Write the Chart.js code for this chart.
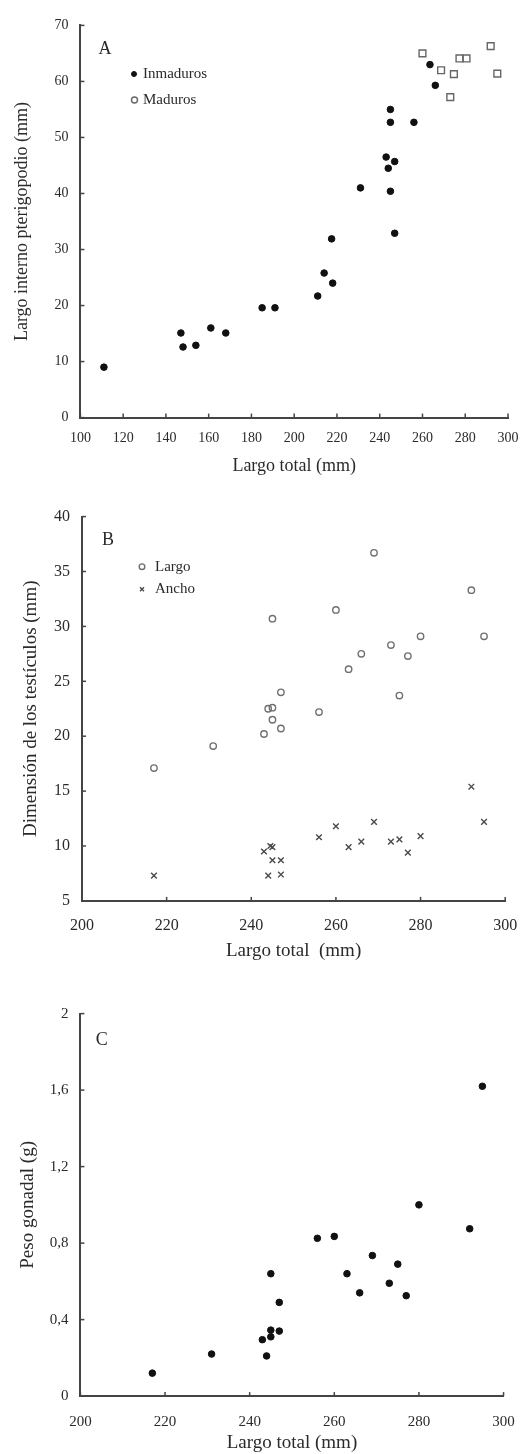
<!DOCTYPE html>
<html>
<head>
<meta charset="utf-8">
<script src="https://cdn.jsdelivr.net/npm/chart.js@4.4.1/dist/chart.umd.min.js"></script>
<style>
  html, body { margin: 0; padding: 0; background: #fff; }
  body { width: 532px; height: 1454px; position: relative; overflow: hidden; }
  canvas { position: absolute; left: 0; }
</style>
</head>
<body>
<canvas id="chartA" width="532" height="480" style="top:0px"></canvas>
<canvas id="chartB" width="532" height="500" style="top:480px"></canvas>
<canvas id="chartC" width="532" height="494" style="top:960px"></canvas>
<script>
// ===== Data =====
// A: largo interno del pterigopodio vs largo total
const aInmadurosX = [111, 147, 148, 154, 161, 168, 185, 191, 211, 214, 218, 217.5, 247, 231, 245, 243, 244, 247, 245, 245, 256, 263.5, 266];
const aInmadurosY = [9, 15.1, 12.6, 12.9, 16, 15.1, 19.6, 19.6, 21.7, 25.8, 24, 31.9, 32.9, 41, 40.4, 46.5, 44.5, 45.7, 55, 52.7, 52.7, 63, 59.3];
const aMadurosX = [260, 268.7, 274.7, 273, 277.3, 280.6, 291.9, 295];
const aMadurosY = [65, 62, 61.3, 57.2, 64.1, 64.1, 66.3, 61.4];

// B: dimension de los testiculos vs largo total
const bLargoX = [269, 292, 260, 245, 280, 295, 273, 266, 277, 263, 247, 275, 244, 245, 256, 245, 247, 243, 231, 217];
const bLargoY = [36.7, 33.3, 31.5, 30.7, 29.1, 29.1, 28.3, 27.5, 27.3, 26.1, 24, 23.7, 22.5, 22.6, 22.2, 21.5, 20.7, 20.2, 19.1, 17.1];
const bAnchoX = [292, 295, 260, 269, 256, 280, 263, 266, 273, 275, 277, 243, 245, 244.5, 245, 247, 244, 247, 217];
const bAnchoY = [15.4, 12.2, 11.8, 12.2, 10.8, 10.9, 9.9, 10.4, 10.4, 10.6, 9.4, 9.5, 9.9, 10, 8.7, 8.7, 7.3, 7.4, 7.3];

// C: peso gonadal vs largo total
const cPesoX = [295, 280, 292, 256, 260, 269, 275, 263, 245, 273, 266, 277, 247, 245, 247, 245, 243, 244, 231, 217];
const cPesoY = [1.62, 1.0, 0.875, 0.825, 0.835, 0.735, 0.69, 0.64, 0.64, 0.59, 0.54, 0.525, 0.49, 0.345, 0.34, 0.31, 0.295, 0.21, 0.22, 0.12];

const SERIF = "'Liberation Serif', 'DejaVu Serif', serif";
const AXIS = '#444';
const INK = '#2a2a2a';

Chart.defaults.font.family = SERIF;
Chart.defaults.color = INK;

const pts = (xs, ys) => xs.map((x, i) => ({ x: x, y: ys[i] }));

// ticks drawn inward, like the original figure
const innerTicks = {
    id: 'innerTicks',
    afterDatasetsDraw(chart) {
        const ctx = chart.ctx;
        const { x, y } = chart.scales;
        ctx.save();
        ctx.strokeStyle = AXIS;
        ctx.lineWidth = 1.5;
        x.ticks.forEach(t => {
            const px = x.getPixelForValue(t.value);
            ctx.beginPath(); ctx.moveTo(px, x.top); ctx.lineTo(px, x.top - 4); ctx.stroke();
        });
        y.ticks.forEach(t => {
            const py = y.getPixelForValue(t.value);
            ctx.beginPath(); ctx.moveTo(y.right, py); ctx.lineTo(y.right + 4, py); ctx.stroke();
        });
        ctx.restore();
    }
};

// panel letter + small legend inside the plot
const notes = {
    id: 'notes',
    afterDraw(chart, args, opts) {
        const ctx = chart.ctx;
        ctx.save();
        ctx.fillStyle = INK;
        ctx.textBaseline = 'middle';
        ctx.textAlign = 'center';
        ctx.font = opts.letterSize + 'px ' + SERIF;
        ctx.fillText(opts.letter, opts.letterX, opts.letterY);
        ctx.font = '15px ' + SERIF;
        (opts.items || []).forEach(it => {
            const ds = chart.data.datasets[it.ds];
            ctx.fillStyle = ds.backgroundColor;
            ctx.strokeStyle = ds.borderColor;
            ctx.lineWidth = ds.borderWidth;
            Chart.helpers.drawPoint(ctx, {
                pointStyle: it.style || ds.pointStyle, radius: it.r, borderWidth: ds.borderWidth, rotation: 0
            }, it.x, it.y);
            ctx.fillStyle = INK;
            ctx.textAlign = 'left';
            ctx.fillText(ds.label, opts.textX, it.y);
        });
        ctx.restore();
    }
};

function makePanel(id, p) {
    return new Chart(document.getElementById(id), {
        type: 'scatter',
        data: { datasets: p.datasets },
        options: {
            responsive: false,
            animation: false,
            devicePixelRatio: 1,
            layout: { padding: { left: 0, right: p.padRight, top: p.padTop, bottom: 0 } },
            plugins: {
                legend: { display: false },
                tooltip: { enabled: false },
                notes: p.notes
            },
            scales: {
                x: {
                    type: 'linear', min: p.xMin, max: p.xMax,
                    afterFit: s => { s.height = p.xHeight; },
                    grid: { display: false, drawTicks: false },
                    border: { display: true, color: AXIS, width: 2 },
                    ticks: { stepSize: 20, autoSkip: false, maxRotation: 0, padding: p.xTickPad, font: { size: p.tickSize }, color: INK },
                    title: { display: true, text: p.xTitle, font: { size: p.titleSize }, color: INK, padding: { top: 0, bottom: p.xTitlePad } }
                },
                y: {
                    type: 'linear', min: p.yMin, max: p.yMax,
                    afterFit: s => { s.width = p.yWidth; },
                    grid: { display: false, drawTicks: false },
                    border: { display: true, color: AXIS, width: 2 },
                    ticks: {
                        stepSize: p.yStep, autoSkip: false, padding: 12, font: { size: p.tickSize }, color: INK,
                        callback: v => String(Number(v.toFixed(1))).replace('.', ',')
                    },
                    title: { display: true, text: p.yTitle, font: { size: p.titleSize }, color: INK, padding: { top: p.yTitlePad, bottom: 0 } }
                }
            }
        },
        plugins: [innerTicks, notes]
    });
}

const filled = { backgroundColor: '#111', borderColor: '#111', borderWidth: 1, pointRadius: 3.3 };

makePanel('chartA', {
    datasets: [
        Object.assign({ label: 'Inmaduros', data: pts(aInmadurosX, aInmadurosY), pointStyle: 'circle' }, filled),
        { label: 'Maduros', data: pts(aMadurosX, aMadurosY), pointStyle: 'rect', pointRadius: 4.8,
          backgroundColor: 'rgba(255,255,255,0)', borderColor: '#666', borderWidth: 1.4 }
    ],
    xMin: 100, xMax: 300, yMin: 0, yMax: 70, yStep: 10,
    padTop: 25.4, padRight: 24, yWidth: 80.4, xHeight: 62.4,
    xTickPad: 12.3, tickSize: 14, titleSize: 18, xTitlePad: 3.2, yTitlePad: 11.7,
    xTitle: 'Largo total (mm)', yTitle: 'Largo interno pterigopodio (mm)',
    notes: { letter: 'A', letterSize: 18, letterX: 105, letterY: 48.8, textX: 143,
        items: [{ ds: 0, x: 134, y: 74, r: 2.5 }, { ds: 1, x: 134.5, y: 100, r: 3, style: 'circle' }] }
});

makePanel('chartB', {
    datasets: [
        { label: 'Largo', data: pts(bLargoX, bLargoY), pointStyle: 'circle', pointRadius: 3.2,
          backgroundColor: 'rgba(255,255,255,0)', borderColor: '#707070', borderWidth: 1.4 },
        { label: 'Ancho', data: pts(bAnchoX, bAnchoY), pointStyle: 'crossRot', pointRadius: 4,
          backgroundColor: 'rgba(255,255,255,0)', borderColor: '#4a4a4a', borderWidth: 1.4 }
    ],
    xMin: 200, xMax: 300, yMin: 5, yMax: 40, yStep: 5,
    padTop: 36.6, padRight: 13.8, yWidth: 82, xHeight: 79.1,
    xTickPad: 14.8, tickSize: 16, titleSize: 19, xTitlePad: 17.6, yTitlePad: 19.6,
    xTitle: 'Largo total  (mm)', yTitle: 'Dimensión de los testículos (mm)',
    notes: { letter: 'B', letterSize: 18, letterX: 108, letterY: 60, textX: 155,
        items: [{ ds: 0, x: 142, y: 86.7, r: 2.8 }, { ds: 1, x: 142, y: 109.3, r: 2.8 }] }
});

makePanel('chartC', {
    datasets: [
        Object.assign({ label: 'Peso gonadal', data: pts(cPesoX, cPesoY), pointStyle: 'circle' }, filled)
    ],
    xMin: 200, xMax: 300, yMin: 0, yMax: 2, yStep: 0.4,
    padTop: 53.6, padRight: 17.2, yWidth: 80.4, xHeight: 57.9,
    xTickPad: 17.2, tickSize: 15, titleSize: 19, xTitlePad: 0, yTitlePad: 16.6,
    xTitle: 'Largo total (mm)', yTitle: 'Peso gonadal (g)',
    notes: { letter: 'C', letterSize: 18, letterX: 101.8, letterY: 79.8, textX: 0, items: [] }
});
</script>
</body>
</html>
